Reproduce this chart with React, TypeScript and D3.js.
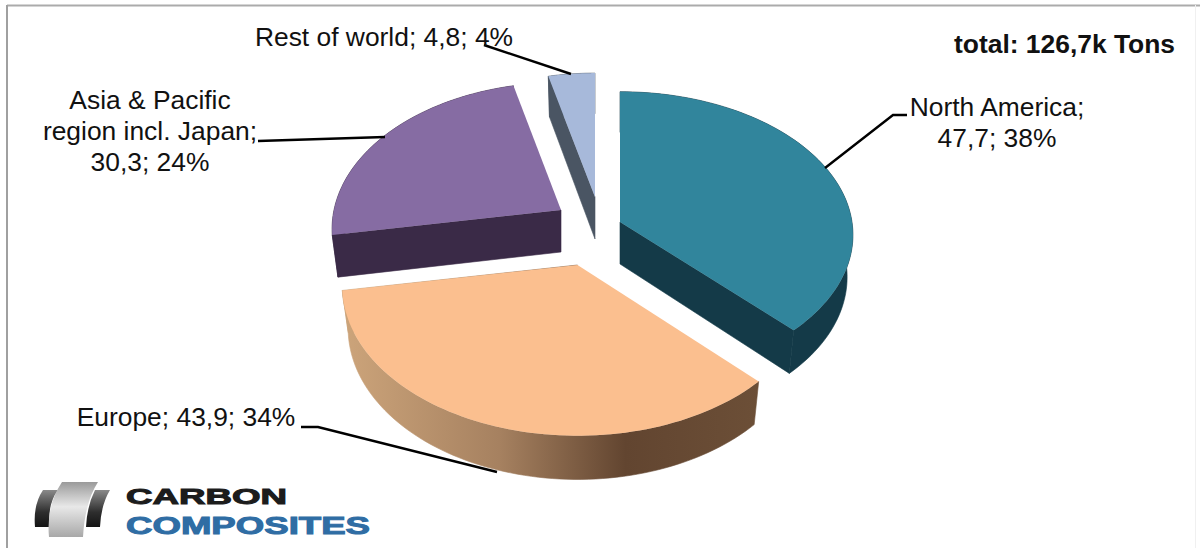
import React from "react";
import * as d3 from "d3";

// Carbon fibre demand by region, thousand tons
const regions = ["North America", "Europe", "Asia & Pacific region incl. Japan", "Rest of world"];
const tonnes = [47.7, 43.9, 30.3, 4.8];
const shares = [38, 34, 24, 4];
const totalLabel = "total: 126,7k Tons";

const topColors = ["#31859c", "#fbbf8f", "#866ca3", "#a7b9da"];
const sideColors = ["#143a48", "url(#earthWall)", "#3a2a47", "#4a5563"];

// Placement of each exploded wedge: apex, plane radii, perspective strength
const wedgeLayout = [
  { ax: 620, ay: 222, rx: 232, ry: 142, k: 0.09, face: "end" },
  { ax: 577.5, ay: 265, rx: 233, ry: 147, k: 0.139, face: "end" },
  { ax: 561, ay: 210, rx: 227, ry: 144, k: 0.13, face: "start" },
  { ax: 595, ay: 197, rx: 223, ry: 140, k: 0.13, face: "start" },
];
const DEPTH = 42;
const LOWER_X = 0.975;
const LOWER_Y = 1.01;
const drawOrder = [3, 2, 0, 1];

const font = "'Liberation Sans', Arial, sans-serif";
const label = (i: number) => `${String(tonnes[i]).replace(".", ",")}; ${shares[i]}%`;

// Leader polylines joining each label to its wedge
const leaders: [number, number][][] = [
  [[907, 115], [893, 115], [825, 168]],
  [[301, 427], [318, 427], [497, 472]],
  [[258, 141], [385, 137]],
  [[484, 45], [571, 74]],
];

const line = d3.line<[number, number]>().x((d) => d[0]).y((d) => d[1]);

export default function App() {
  const arcs = d3.pie<number>().sort(null).startAngle(0).endAngle(2 * Math.PI)(tonnes);

  const wedge = (i: number) => {
    const w = wedgeLayout[i];
    const a = arcs[i];
    // Upper rim point at pie angle t, foreshortened towards the back
    const rim = (t: number): [number, number] => {
      const u = Math.sin(t);
      const v = -Math.cos(t);
      const p = 1 / (1 - w.k * v);
      return [w.ax + w.rx * u * p, w.ay + w.ry * v * p];
    };
    // The same point on the lower plane of the disc
    const lower = (q: [number, number]): [number, number] => [
      w.ax + (q[0] - w.ax) * LOWER_X,
      w.ay + DEPTH + (q[1] - w.ay) * LOWER_Y,
    ];
    const steps = d3.range(0, 81).map((n) => a.startAngle + ((a.endAngle - a.startAngle) * n) / 80);
    const upper = steps.map(rim);
    const apex: [number, number] = [w.ax, w.ay];
    const top = line([apex, ...upper])! + "Z";
    const wall = line([...upper, ...upper.map(lower).reverse()])! + "Z";
    const edge = w.face === "end" ? upper[upper.length - 1] : upper[0];
    const face = line([apex, edge, lower(edge), lower(apex)])! + "Z";
    return { top, wall, face };
  };

  const textStyle = { fontFamily: font, fontSize: 26.4, fill: "#111" };

  return (
    <svg
      width={1200}
      height={548}
      viewBox="0 0 1200 548"
      style={{ position: "absolute", left: 0, top: 0, background: "#fff" }}
    >
      <defs>
        <linearGradient id="earthWall" gradientUnits="userSpaceOnUse" x1={340} x2={760} y1={0} y2={0}>
          <stop offset="0" stopColor="#cda57b" />
          <stop offset="0.38" stopColor="#a68160" />
          <stop offset="0.68" stopColor="#624530" />
          <stop offset="1" stopColor="#6c4f37" />
        </linearGradient>
        <linearGradient id="markSilver" x1="0" x2="0" y1="0" y2="1">
          <stop offset="0" stopColor="#9a9a9a" />
          <stop offset="0.45" stopColor="#e8e8e8" />
          <stop offset="1" stopColor="#a8a8a8" />
        </linearGradient>
        <linearGradient id="markDark" x1="0" x2="0" y1="0" y2="1">
          <stop offset="0" stopColor="#8a8a8a" />
          <stop offset="0.6" stopColor="#2e2e2e" />
          <stop offset="1" stopColor="#141414" />
        </linearGradient>
      </defs>

      {/* Frame */}
      <line x1={7} x2={1200} y1={5.5} y2={5.5} stroke="#ababab" strokeWidth={2} />
      <line x1={7} x2={7} y1={5} y2={548} stroke="#a0a0a0" strokeWidth={2} />
      <line x1={1195.5} x2={1195.5} y1={5} y2={548} stroke="#f0f0f0" strokeWidth={1} />

      {/* Wedges, back to front */}
      {drawOrder.map((i) => {
        const g = wedge(i);
        return (
          <g key={regions[i]}>
            <path d={g.wall} fill={sideColors[i]} stroke={sideColors[i]} strokeWidth={0.6} />
            <path d={g.face} fill={sideColors[i]} stroke={sideColors[i]} strokeWidth={0.6} />
            <path d={g.top} fill={topColors[i]} />
          </g>
        );
      })}

      {/* Leaders */}
      {leaders.map((pts, i) => (
        <path key={i} d={line(pts)!} fill="none" stroke="#000" strokeWidth={2.4} />
      ))}

      {/* Labels */}
      <text {...textStyle} x={997} y={116} textAnchor="middle">{regions[0]};</text>
      <text {...textStyle} x={997} y={147} textAnchor="middle">{label(0)}</text>
      <text {...textStyle} x={186} y={426} textAnchor="middle">{regions[1]}; {label(1)}</text>
      <text {...textStyle} x={150} y={109} textAnchor="middle">Asia &amp; Pacific</text>
      <text {...textStyle} x={150} y={140} textAnchor="middle">region incl. Japan;</text>
      <text {...textStyle} x={150} y={171} textAnchor="middle">{label(2)}</text>
      <text {...textStyle} x={384} y={46} textAnchor="middle">{regions[3]}; {label(3)}</text>
      <text x={1175} y={53} textAnchor="end" fontFamily={font} fontSize={26.4} fontWeight={700} fill="#111">{totalLabel}</text>

      {/* Company mark */}
      <path d="M43,490 L58,490 Q47,505 50,527 L35,527 Q33,505 43,490Z" fill="url(#markDark)" />
      <path d="M95,490 L110,490 Q101,505 100,527 L86,527 Q87,506 95,490Z" fill="url(#markDark)" />
      <path d="M62,482 L98,482 Q85,502 83,537 L49,537 Q46,506 62,482Z" fill="url(#markSilver)" />
      <text x={126} y={504} fontFamily={font} fontSize={22.5} fontWeight={700} fill="#1c1c1c" stroke="#1c1c1c" strokeWidth={1} textLength={161} lengthAdjust="spacingAndGlyphs">CARBON</text>
      <text x={126} y={534} fontFamily={font} fontSize={24} fontWeight={700} fill="#2f6da4" stroke="#2f6da4" strokeWidth={1} textLength={244} lengthAdjust="spacingAndGlyphs">COMPOSITES</text>
    </svg>
  );
}
